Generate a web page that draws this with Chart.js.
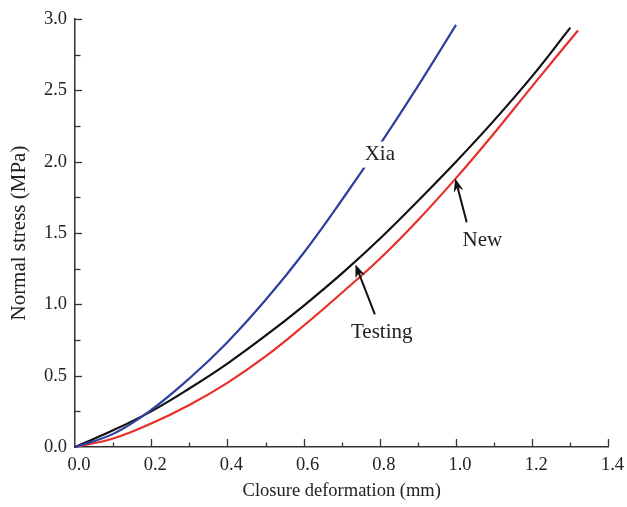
<!DOCTYPE html>
<html>
<head>
<meta charset="utf-8">
<script src="https://cdn.jsdelivr.net/npm/chart.js@4/dist/chart.umd.min.js"></script>
<style>
  html, body { margin: 0; padding: 0; background: #fff; }
  canvas { display: block; }
</style>
</head>
<body>
<canvas id="stress" width="627" height="507"></canvas>
<script>
// closure deformation (mm) against normal stress (MPa)
const xTesting = [0, 0.1, 0.2, 0.3, 0.4, 0.5, 0.6, 0.7, 0.8, 0.9, 1.0, 1.1, 1.2, 1.3]
const testing  = [0, 0.117, 0.25, 0.41, 0.585, 0.78, 0.99, 1.215, 1.46, 1.725, 2.0, 2.29, 2.6, 2.94]

const xNew     = [0, 0.1, 0.2, 0.3, 0.4, 0.5, 0.6, 0.7, 0.8, 0.9, 1.0, 1.1, 1.2, 1.32]
const newModel = [0, 0.06, 0.165, 0.295, 0.45, 0.635, 0.85, 1.08, 1.32, 1.59, 1.885, 2.2, 2.53, 2.92]

const xXia = [0, 0.1, 0.2, 0.3, 0.4, 0.5, 0.6, 0.7, 0.8, 0.9, 1.0]
const xia  = [0, 0.092, 0.26, 0.48, 0.735, 1.03, 1.36, 1.73, 2.12, 2.53, 2.96]

const serif = '"Liberation Serif", "Times New Roman", serif'
const axisColor = '#333'

function pts(xs, ys) {
    return xs.map((x, i) => ({x: x, y: ys[i]}))
}

function line(label, xs, ys, color) {
    return {
        label: label,
        data: pts(xs, ys),
        showLine: true,
        borderColor: color,
        borderWidth: 2.2,
        pointRadius: 0,
        tension: 0.4,
        clip: false
    }
}

function arrow(ctx, x0, y0, x1, y1) {
    const a = Math.atan2(y1 - y0, x1 - x0)
    const c = Math.cos(a), s = Math.sin(a)
    const len = 13, half = 5
    ctx.beginPath()
    ctx.moveTo(x0, y0)
    ctx.lineTo(x1 - len * 0.7 * c, y1 - len * 0.7 * s)
    ctx.stroke()
    ctx.beginPath()
    ctx.moveTo(x1, y1)
    ctx.lineTo(x1 - len * c + half * s, y1 - len * s - half * c)
    ctx.lineTo(x1 - len * 0.7 * c, y1 - len * 0.7 * s)
    ctx.lineTo(x1 - len * c - half * s, y1 - len * s + half * c)
    ctx.closePath()
    ctx.fill()
}

// inward tick marks, major and minor, on both axes
const innerTicks = {
    id: 'innerTicks',
    afterDraw(chart) {
        const ctx = chart.ctx
        const xs = chart.scales.x, ys = chart.scales.y
        const bottom = chart.chartArea.bottom, left = chart.chartArea.left
        ctx.save()
        ctx.strokeStyle = axisColor
        ctx.lineWidth = 1.3
        for (let i = 1; i <= 14; i++) {
            const px = Math.round(xs.getPixelForValue(i / 10)) + 0.5
            const len = i % 2 === 0 ? 8 : 4.5
            ctx.beginPath()
            ctx.moveTo(px, bottom)
            ctx.lineTo(px, bottom - len)
            ctx.stroke()
        }
        for (let i = 1; i <= 12; i++) {
            const py = Math.round(ys.getPixelForValue(i / 4)) + 0.5
            const len = i % 2 === 0 ? 7 : 5.5
            ctx.beginPath()
            ctx.moveTo(left, py)
            ctx.lineTo(left + len, py)
            ctx.stroke()
        }
        ctx.restore()
    }
}

// curve names with pointer arrows
const curveLabels = {
    id: 'curveLabels',
    afterDatasetsDraw(chart) {
        const ctx = chart.ctx
        const xs = chart.scales.x, ys = chart.scales.y
        const px = v => xs.getPixelForValue(v)
        const py = v => ys.getPixelForValue(v)
        ctx.save()
        ctx.font = '21px ' + serif
        ctx.textAlign = 'center'
        ctx.textBaseline = 'middle'

        // Xia sits on its own curve, with a white patch behind it
        const xw = ctx.measureText('Xia').width
        ctx.fillStyle = '#fff'
        ctx.fillRect(px(0.8) - xw / 2 - 3, py(2.05) - 13, xw + 6, 26)
        ctx.fillStyle = '#222'
        ctx.fillText('Xia', px(0.8), py(2.05))

        ctx.fillText('Testing', px(0.805), py(0.805))
        ctx.fillText('New', px(1.069), py(1.447))

        ctx.strokeStyle = '#111'
        ctx.fillStyle = '#111'
        ctx.lineWidth = 2
        arrow(ctx, px(0.787), py(0.93), px(0.736), py(1.28))
        arrow(ctx, px(1.028), py(1.575), px(0.998), py(1.882))
        ctx.restore()
    }
}

Chart.defaults.font.family = serif
Chart.defaults.color = '#222'

new Chart(document.getElementById('stress'), {
    type: 'scatter',
    data: {
        datasets: [
            line('Xia', xXia, xia, '#2d3f9f'),
            line('Testing', xTesting, testing, '#111111'),
            line('New', xNew, newModel, '#e8302a')
        ]
    },
    options: {
        responsive: false,
        animation: false,
        layout: { padding: { top: 16, right: 16, left: 0, bottom: 0 } },
        plugins: {
            legend: { display: false },
            tooltip: { enabled: false }
        },
        scales: {
            x: {
                type: 'linear',
                min: 0,
                max: 1.4,
                afterFit(scale) { scale.height = 60 },
                grid: { drawOnChartArea: false, drawTicks: false },
                border: { color: axisColor, width: 1.5 },
                ticks: {
                    stepSize: 0.2,
                    padding: 7,
                    labelOffset: 4,
                    font: { size: 18.5 },
                    callback: v => v.toFixed(1)
                },
                title: {
                    display: true,
                    text: 'Closure deformation (mm)',
                    font: { size: 18.5 },
                    padding: { top: 0, bottom: 5 }
                }
            },
            y: {
                type: 'linear',
                min: 0,
                max: 3,
                afterFit(scale) { scale.width = 75 },
                grid: { drawOnChartArea: false, drawTicks: false },
                border: { color: axisColor, width: 1.5 },
                ticks: {
                    stepSize: 0.5,
                    padding: 8,
                    font: { size: 18.5 },
                    callback: v => v.toFixed(1)
                },
                title: {
                    display: true,
                    text: 'Normal stress (MPa)',
                    font: { size: 21 },
                    padding: { top: 7, bottom: 0 }
                }
            }
        }
    },
    plugins: [innerTicks, curveLabels]
})
</script>
</body>
</html>
